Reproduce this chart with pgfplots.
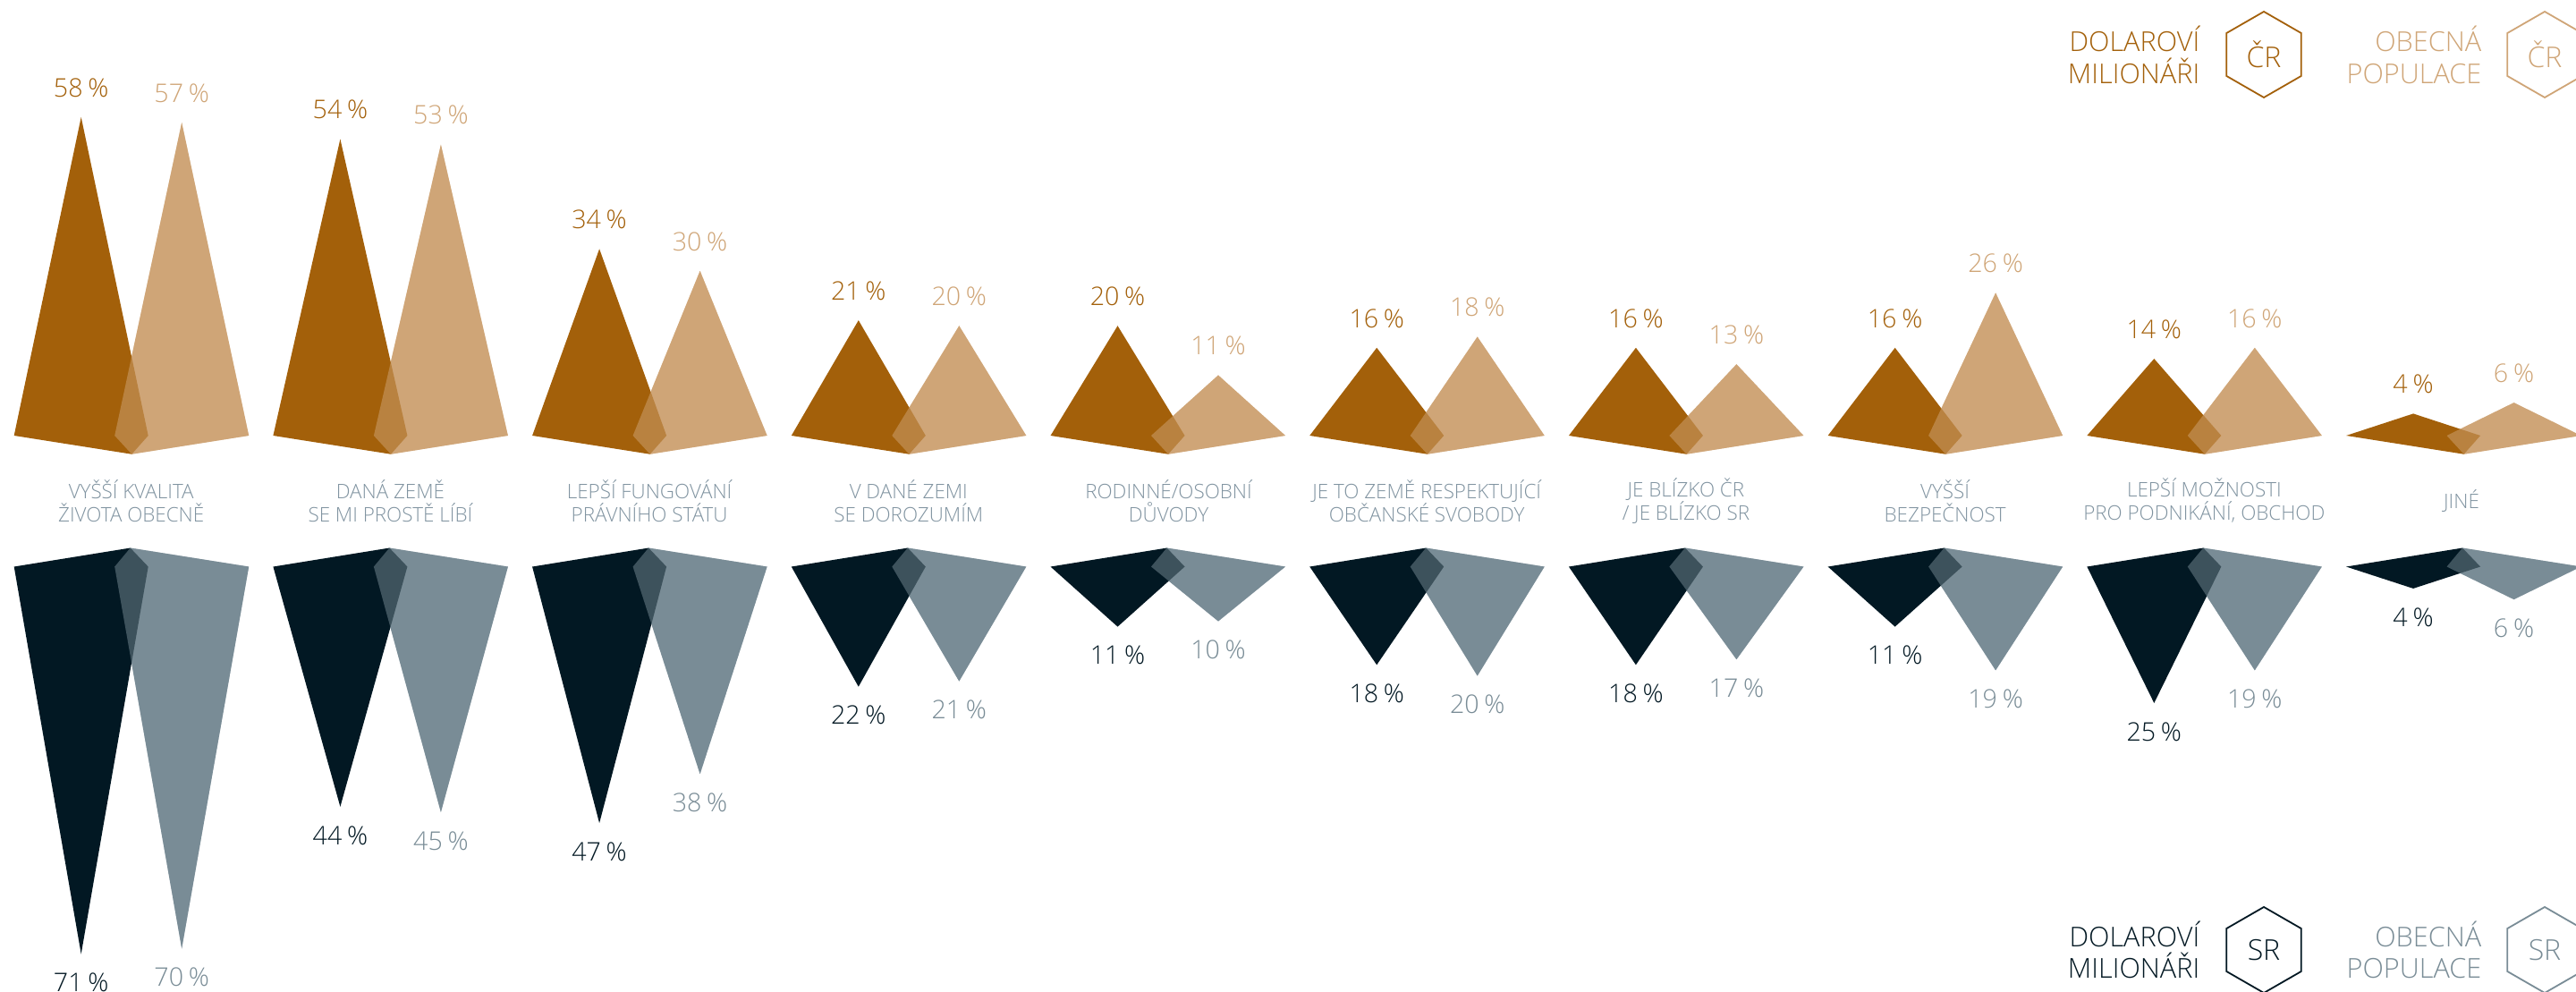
\documentclass[border=0pt]{standalone}
\usepackage{fontspec}
\setmainfont{Open Sans Light}
\usepackage{pgfplots}
\pgfplotsset{compat=1.18}
\definecolor{cza}{HTML}{A3600A}
\definecolor{czb}{HTML}{CFA577}
\definecolor{sra}{HTML}{021823}
\definecolor{srb}{HTML}{798C96}
\definecolor{lab}{HTML}{8093A0}
\newcommand{\grp}[3]{%
  \pgfmathsetmacro{\xa}{15.7+289.7*#1}%
  \pgfmathsetmacro{\xb}{\xa+75}%
  \pgfmathsetmacro{\xc}{\xa+150}%
  \pgfmathsetmacro{\xd}{\xa+\tipoff}%
  \pgfmathsetmacro{\xe}{\xa+112.5}%
  \pgfmathsetmacro{\xf}{\xa+187.5}%
  \pgfmathsetmacro{\xg}{\xa+262.5}%
  \addplot[draw=none,fill=\colB,forget plot] coordinates {(\xe,0) (\xf,#3) (\xg,0) (\xd,\tipy)} --cycle;
  \addplot[draw=none,fill=\colA,forget plot] coordinates {(\xa,0) (\xb,#2) (\xc,0) (\xd,\tipy)} --cycle;
  \addplot[draw=none,fill=\colB,fill opacity=0.5,forget plot] coordinates {(\xe,0) (\xf,#3) (\xg,0) (\xd,\tipy)} --cycle;
  \addplot[draw=none,mark=none,forget plot,point meta=y,nodes near coords={\pgfmathprintnumber{\pgfplotspointmeta}\hspace{0.2em}\%},
    every node near coord/.append style={text=\colA,anchor=center,yshift=\lshift,font=\fontsize{7.15}{8}\selectfont}] coordinates {(\xb,#2)};
  \addplot[draw=none,mark=none,forget plot,point meta=y,nodes near coords={\pgfmathprintnumber{\pgfplotspointmeta}\hspace{0.2em}\%},
    every node near coord/.append style={text=\colB,anchor=center,yshift=\lshift,font=\fontsize{7.15}{8}\selectfont}] coordinates {(\xf,#3)};
}
\newcommand{\hex}[4]{% cx cy colour text
  \draw[#3,line width=0.45pt] (#1,#2-48)--(#1+41.7,#2-24)--(#1+41.7,#2+24)--(#1,#2+48)--(#1-41.7,#2+24)--(#1-41.7,#2-24)--cycle;
  \node[text=#3,font=\fontsize{8}{9}\selectfont,inner sep=0pt] at (#1,#2) {#4};
}
\newcommand{\leg}[4]{% right x, centre y, colour, text
  \node[text=#3,font=\fontsize{7.65}{8.9}\selectfont,align=right,anchor=east,inner sep=0pt] at (#1,#2) {#4};
}
\begin{document}
\begin{tikzpicture}
\path[use as bounding box] (0,-277.25pt) rectangle (720pt,0pt);
\clip (0,-277.25pt) rectangle (720pt,0pt);
\begin{axis}[at={(0pt,-140pt)},anchor=south west,width=720pt,height=140pt,scale only axis,
  xmin=0,xmax=2880,ymin=-11.89,ymax=79.32,clip=false,
  /pgf/number format/assume math mode=true,/pgf/number format/fixed,/pgf/number format/precision=0,
  axis line style={draw=none},tick style={draw=none},ymajorticks=false,
  xtick={146.7,436.4,726.1,1015.8,1306.5,1595.2,1884.9,2174.6,2464.3,2752},
  xticklabels={{VYŠŠÍ KVALITA\\ŽIVOTA OBECNĚ},{DANÁ ZEMĚ\\SE MI PROSTĚ LÍBÍ},{LEPŠÍ FUNGOVÁNÍ\\PRÁVNÍHO STÁTU},{V DANÉ ZEMI\\SE DOROZUMÍM},{RODINNÉ/OSOBNÍ\\DŮVODY},{JE TO ZEMĚ RESPEKTUJÍCÍ\\OBČANSKÉ SVOBODY},{JE BLÍZKO ČR\\/ JE BLÍZKO SR},{VYŠŠÍ\\BEZPEČNOST},{LEPŠÍ MOŽNOSTI\\PRO PODNIKÁNÍ, OBCHOD},{JINÉ}},
  xticklabel style={anchor=center,align=center,text=lab,font=\fontsize{5.6}{6.5}\selectfont},
]
\def\colA{cza}\def\colB{czb}\def\tipoff{131.6}\def\tipy{-3.38}\def\lshift{8.2pt}
\grp{0}{58}{57}
\grp{1}{54}{53}
\grp{2}{34}{30}
\grp{3}{21}{20}
\grp{4}{20}{11}
\grp{5}{16}{18}
\grp{6}{16}{13}
\grp{7}{16}{26}
\grp{8}{14}{16}
\grp{9}{4}{6}
\end{axis}
\begin{axis}[at={(0pt,-277.25pt)},anchor=south west,width=720pt,height=137.25pt,scale only axis,
  xmin=0,xmax=2880,ymin=-12.05,ymax=77.95,y dir=reverse,clip=false,
  /pgf/number format/assume math mode=true,/pgf/number format/fixed,/pgf/number format/precision=0,
  hide axis,
]
\def\colA{sra}\def\colB{srb}\def\tipoff{130}\def\tipy{-3.44}\def\lshift{-8pt}
\grp{0}{71}{70}
\grp{1}{44}{45}
\grp{2}{47}{38}
\grp{3}{22}{21}
\grp{4}{11}{10}
\grp{5}{18}{20}
\grp{6}{18}{17}
\grp{7}{11}{19}
\grp{8}{25}{19}
\grp{9}{4}{6}
\end{axis}
\begin{scope}[x=0.25pt,y=-0.25pt]
\leg{2460}{61.5}{cza}{DOLAROVÍ\\MILIONÁŘI}
\hex{2531}{61}{cza}{ČR}
\leg{2775}{61.5}{czb}{OBECNÁ\\POPULACE}
\hex{2845}{61}{czb}{ČR}
\leg{2460}{1062}{sra}{DOLAROVÍ\\MILIONÁŘI}
\hex{2531}{1062}{sra}{SR}
\leg{2775}{1062}{srb}{OBECNÁ\\POPULACE}
\hex{2845}{1062}{srb}{SR}
\end{scope}
\end{tikzpicture}
\end{document}
